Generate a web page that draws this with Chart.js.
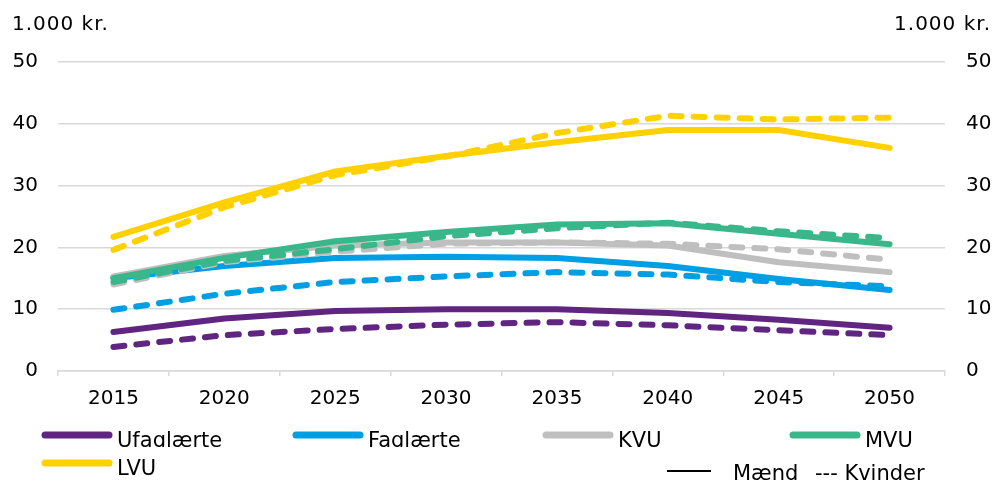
<!DOCTYPE html>
<html>
<head>
<meta charset="utf-8">
<script src="https://cdn.jsdelivr.net/npm/chart.js@4.4.1/dist/chart.umd.min.js"></script>
<style>
  body { margin: 0; background: #fff; }
  canvas { display: block; }
</style>
</head>
<body>
<canvas id="chart" width="996" height="481"></canvas>
<script>
// data (1.000 kr.)
const years = ['2015', '2020', '2025', '2030', '2035', '2040', '2045', '2050'];
const yTicks = [0, 10, 20, 30, 40, 50];

const ufagMaend = [6.3, 8.5, 9.7, 10.0, 10.0, 9.4, 8.3, 7.0];
const ufagKvinder = [3.9, 5.8, 6.8, 7.5, 7.9, 7.4, 6.6, 5.8];
const fagMaend = [15.0, 17.0, 18.3, 18.5, 18.3, 17.0, 14.9, 13.1];
const fagKvinder = [9.9, 12.5, 14.4, 15.3, 16.0, 15.6, 14.4, 13.7];
const kvuMaend = [15.3, 18.6, 20.3, 20.8, 20.8, 20.3, 17.6, 16.0];
const kvuKvinder = [14.0, 17.6, 19.3, 20.6, 20.8, 20.6, 19.7, 18.0];
const mvuMaend = [15.0, 18.3, 21.0, 22.5, 23.7, 23.9, 22.2, 20.5];
const mvuKvinder = [14.4, 17.8, 19.7, 21.8, 23.1, 24.0, 22.6, 21.5];
const lvuMaend = [21.7, 27.3, 32.3, 34.8, 37.0, 39.0, 39.0, 36.1];
const lvuKvinder = [19.6, 26.5, 31.7, 34.7, 38.5, 41.3, 40.7, 41.0];

const groups = [
    { name: 'Ufaglærte', color: '#5f2580', m: ufagMaend, k: ufagKvinder },
    { name: 'Faglærte', color: '#009fe3', m: fagMaend, k: fagKvinder },
    { name: 'KVU', color: '#bfbfbf', m: kvuMaend, k: kvuKvinder },
    { name: 'MVU', color: '#3ab78a', m: mvuMaend, k: mvuKvinder },
    { name: 'LVU', color: '#ffd100', m: lvuMaend, k: lvuKvinder }
];

const FONT = 'DejaVu Sans';
Chart.defaults.font.family = FONT;
Chart.defaults.font.size = 20;
Chart.defaults.color = '#000';

// later series drawn on top (like excel)
const datasets = [];
groups.forEach((g) => {
    datasets.push({ label: g.name + ' mænd', data: g.m, borderColor: g.color, borderDash: [] });
    datasets.push({ label: g.name + ' kvinder', data: g.k, borderColor: g.color, borderDash: [11, 12] });
});
datasets.forEach((d, i) => {
    d.order = datasets.length - i;
    d.borderWidth = 6;
    d.borderCapStyle = 'round';
    d.borderJoinStyle = 'round';
    d.pointRadius = 0;
    d.fill = false;
    d.tension = 0;
});

// tegner enhed og forklaring
const extras = {
    id: 'extras',
    afterDraw(chart) {
        const ctx = chart.ctx;
        ctx.save();
        ctx.fillStyle = '#000';
        ctx.textBaseline = 'alphabetic';
        ctx.font = '20px "' + FONT + '"';
        ctx.letterSpacing = '1px';
        ctx.textAlign = 'left';
        ctx.fillText('1.000 kr.', 12, 30);
        ctx.textAlign = 'right';
        ctx.fillText('1.000 kr.', 991, 30);
        ctx.letterSpacing = '0px';

        // legend
        ctx.font = '21px "' + FONT + '"';
        const items = [
            { g: groups[0], x: 42, y: 435 },
            { g: groups[1], x: 293, y: 435 },
            { g: groups[2], x: 543, y: 435 },
            { g: groups[3], x: 790, y: 435 },
            { g: groups[4], x: 42, y: 463 }
        ];
        ctx.textAlign = 'left';
        items.forEach((it) => {
            ctx.strokeStyle = it.g.color;
            ctx.lineWidth = 7;
            ctx.lineCap = 'round';
            ctx.beginPath();
            ctx.moveTo(it.x + 3, it.y);
            ctx.lineTo(it.x + 67, it.y);
            ctx.stroke();
            ctx.save();
            if (it.y < 450) {
                ctx.beginPath();
                ctx.rect(0, 420, 996, 27);
                ctx.clip();
            }
            ctx.fillText(it.g.name, it.x + 75, it.y + 12);
            ctx.restore();
        });

        ctx.strokeStyle = '#000';
        ctx.lineWidth = 2;
        ctx.lineCap = 'butt';
        ctx.beginPath();
        ctx.moveTo(667, 471);
        ctx.lineTo(711, 471);
        ctx.stroke();
        ctx.fillText('Mænd', 733, 480);
        ctx.fillText('--- Kvinder', 815, 480);
        ctx.restore();
    }
};

const yOpts = (pos) => ({
    type: 'linear',
    position: pos,
    min: 0,
    max: 50,
    afterBuildTicks: (axis) => { axis.ticks = yTicks.map((v) => ({ value: v })); },
    afterFit: (scale) => { scale.width = pos === 'left' ? 58 : 51; },
    ticks: { padding: pos === 'left' ? 20 : 21, color: '#000' },
    grid: {
        display: pos === 'left',
        drawTicks: false,
        color: '#d9d9d9',
        lineWidth: 1.5
    },
    border: { display: false }
});

new Chart(document.getElementById('chart').getContext('2d'), {
    type: 'line',
    data: { labels: years, datasets: datasets },
    options: {
        responsive: false,
        maintainAspectRatio: false,
        animation: false,
        layout: { padding: { left: 0, right: 0, top: 62, bottom: 70 } },
        scales: {
            x: {
                type: 'category',
                offset: true,
                afterFit: (scale) => { scale.height = 40; },
                grid: {
                    offset: true,
                    drawOnChartArea: false,
                    tickLength: 5,
                    color: '#d9d9d9',
                    lineWidth: 1.5
                },
                border: { color: '#d9d9d9', width: 1.5 },
                ticks: { padding: 11, color: '#000', maxRotation: 0, autoSkip: false }
            },
            y: yOpts('left'),
            y2: yOpts('right')
        },
        plugins: {
            legend: { display: false },
            tooltip: { enabled: false }
        }
    },
    plugins: [extras]
});
</script>
</body>
</html>
